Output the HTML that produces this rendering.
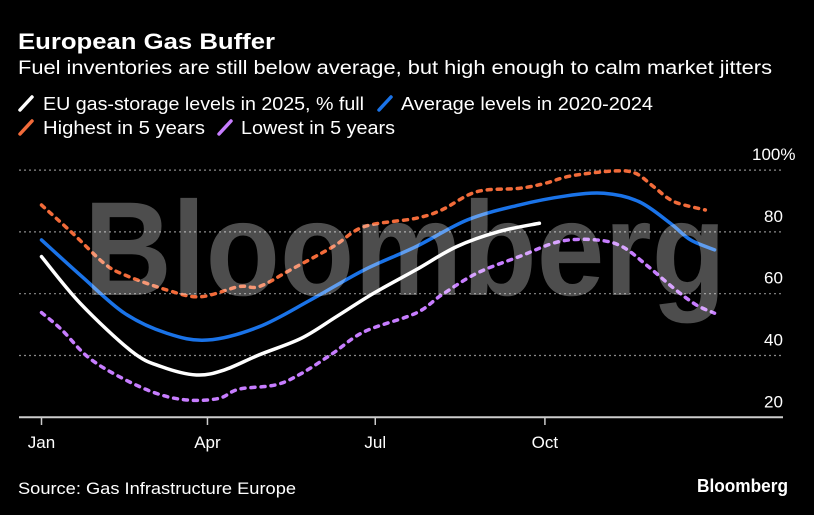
<!DOCTYPE html>
<html><head><meta charset="utf-8"><style>
html,body{margin:0;padding:0;background:#000;}
svg{display:block;font-family:"Liberation Sans",sans-serif;}
</style></head><body>
<svg id="chart" width="814" height="515" viewBox="0 0 814 515" xmlns="http://www.w3.org/2000/svg">
<rect width="814" height="515" fill="#000"/>
<text x="18" y="49" fill="#fff" font-size="22" font-weight="bold" textLength="257" lengthAdjust="spacingAndGlyphs">European Gas Buffer</text>
<text x="18" y="74" fill="#fff" font-size="19" textLength="754" lengthAdjust="spacingAndGlyphs">Fuel inventories are still below average, but high enough to calm market jitters</text>
<g font-size="18" fill="#fff">
 <g><line x1="20" y1="110" x2="32" y2="97" stroke="#fff" stroke-width="3.5" stroke-linecap="round"/><text x="43" y="110" textLength="321" lengthAdjust="spacingAndGlyphs">EU gas-storage levels in 2025, % full</text></g>
 <g><line x1="379" y1="110" x2="391" y2="97" stroke="#1a73e8" stroke-width="3.5" stroke-linecap="round"/><text x="401" y="110" textLength="252" lengthAdjust="spacingAndGlyphs">Average levels in 2020-2024</text></g>
 <g><line x1="20" y1="134" x2="32" y2="121" stroke="#f26b3a" stroke-width="3.5" stroke-linecap="round"/><text x="43" y="134" textLength="162" lengthAdjust="spacingAndGlyphs">Highest in 5 years</text></g>
 <g><line x1="219" y1="134" x2="231" y2="121" stroke="#c77dff" stroke-width="3.5" stroke-linecap="round"/><text x="241" y="134" textLength="154" lengthAdjust="spacingAndGlyphs">Lowest in 5 years</text></g>
</g>
<g id="grid"></g>
<g id="axes"></g>
<g id="series"></g>
<text x="84" y="295" fill="#fff" fill-opacity="0.3" font-size="134" font-weight="bold" textLength="642" lengthAdjust="spacingAndGlyphs">Bloomberg</text>
<text x="18" y="494" fill="#fff" font-size="17" textLength="278" lengthAdjust="spacingAndGlyphs">Source: Gas Infrastructure Europe</text>
<text x="697" y="492" fill="#fff" font-size="18" font-weight="bold" textLength="91" lengthAdjust="spacingAndGlyphs">Bloomberg</text>
</svg>
<script>
const yTicks=[20,40,60,80,100];
const yTickLabels=["20","40","60","80","100%"];
const monthTicks=[0,90,181,273];
const monthLabels=["Jan","Apr","Jul","Oct"];
const days2025=[0,21,49,65,84,99,118,141,160,180,203,225,248,270];
const vals2025=[72,56.9,41.3,36.4,33.7,35.3,40.2,45.6,52.6,60.1,67.7,75.2,80.1,82.8];
const daysAvg=[0,22,45,68,90,118,146,175,203,231,259,284,305,324,341,352,365];
const valsAvg=[77.4,65.5,53.7,47.2,45.0,49.3,58.0,67.7,75.2,83.9,88.7,91.6,92.5,89.8,82.8,77.4,74.2];
const daysHigh=[0,17,34,45,68,86,107,118,135,158,175,203,217,236,259,273,287,310,322,332,343,360];
const valsHigh=[88.7,79.5,69.8,66.1,61.2,59.0,62.3,62.3,67.7,75.2,81.7,84.4,87.1,93.0,94.1,95.7,98.1,99.7,99,94.6,89.8,87.1];
const daysLow=[0,11,25,42,62,79,96,107,127,141,158,175,203,217,236,259,281,301,315,329,343,355,365];
const valsLow=[53.9,48.3,39.6,33.2,27.8,25.6,26.1,29.1,30.5,34.2,40.7,47.7,53.7,59.6,66.6,72.0,76.9,77.4,75.2,68.8,61.7,56.4,53.7];

const NS="http://www.w3.org/2000/svg";
function xScale(d){return 41.5+d*1.844;}
function yScale(v){return 417.3-(v-20)*3.09;}
function mk(tag,attrs,parent){const e=document.createElementNS(NS,tag);for(const k in attrs)e.setAttribute(k,attrs[k]);parent.appendChild(e);return e;}
const grid=document.getElementById('grid'),axes=document.getElementById('axes'),series=document.getElementById('series');
yTicks.forEach((t,i)=>{
  if(t>20){const l=mk('line',{x1:19,x2:783,y1:yScale(t),y2:yScale(t),stroke:'#8a8a8a','stroke-width':1.2,'stroke-dasharray':'2 3'},grid);
  
  }
  const tx=mk('text',{x:t===100?752:764,y:yScale(t)-10,fill:'#fff','font-size':17},axes);
  tx.textContent=yTickLabels[i];
  
  
});
const ax=mk('line',{x1:19,x2:783,y1:417.3,y2:417.3,stroke:'#ccc','stroke-width':2},axes);


monthTicks.forEach((d,i)=>{
  const t=mk('line',{x1:xScale(d),x2:xScale(d),y1:417,y2:425,stroke:'#ccc','stroke-width':1.5},axes);
  
  
  const tx=mk('text',{x:xScale(d),y:448,fill:'#fff','font-size':17,'text-anchor':'middle'},axes);
  tx.textContent=monthLabels[i];
  
  
});
function pathFor(ds,vs){
  const p=ds.map((d,i)=>[xScale(d),yScale(vs[i])]);
  let s='M'+p[0][0]+','+p[0][1];
  for(let i=0;i<p.length-1;i++){
    const p0=p[i-1]||p[i],p1=p[i],p2=p[i+1],p3=p[i+2]||p2;
    const c1x=p1[0]+(p2[0]-p0[0])/6,c1y=p1[1]+(p2[1]-p0[1])/6;
    const c2x=p2[0]-(p3[0]-p1[0])/6,c2y=p2[1]-(p3[1]-p1[1])/6;
    s+=' C'+c1x+','+c1y+' '+c2x+','+c2y+' '+p2[0]+','+p2[1];
  }
  return s;
}
function draw(ds,vs,color,dash,name){
  const a={d:pathFor(ds,vs),fill:'none',stroke:color,'stroke-width':3.5,'stroke-linecap':'round','stroke-linejoin':'round'};
  if(dash)a['stroke-dasharray']=dash;
  const p=mk('path',a,series);
  
  
}
draw(daysHigh,valsHigh,'#f26b3a','4 6','line-highest-5y');
draw(daysLow,valsLow,'#c77dff','4 6','line-lowest-5y');
draw(daysAvg,valsAvg,'#1a73e8',null,'line-average-2020-2024');
draw(days2025,vals2025,'#ffffff',null,'line-2025');
</script>
</body></html>
